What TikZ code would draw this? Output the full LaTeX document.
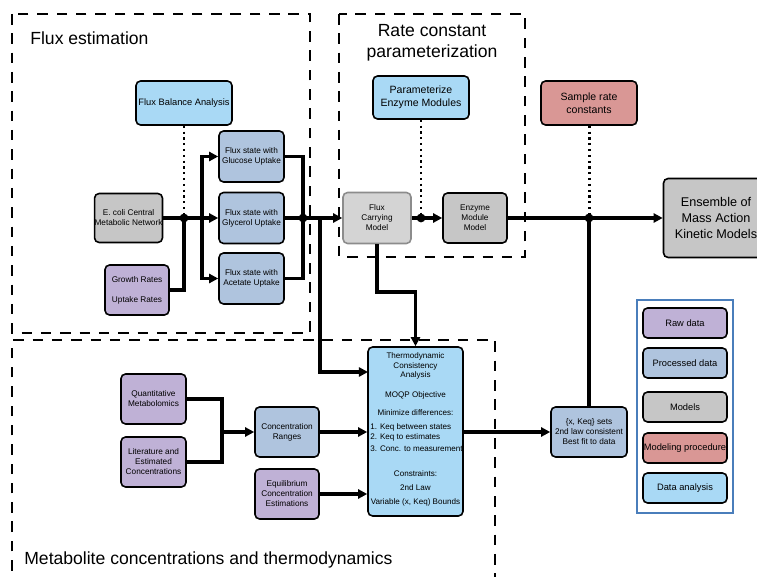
\documentclass[tikz,border=0pt]{standalone}
\usepackage{fontspec}
\setmainfont{Liberation Sans}
\usetikzlibrary{arrows.meta}

\definecolor{rawdata}{HTML}{BFB1D6}
\definecolor{procdata}{HTML}{AFC4DE}
\definecolor{models}{HTML}{C6C6C6}
\definecolor{procedure}{HTML}{D99795}
\definecolor{analysis}{HTML}{A9D9F5}
\definecolor{legendline}{HTML}{4A7EBB}

\begin{document}
\begin{tikzpicture}[x=0.02cm, y=-0.02cm,
    box/.style={draw=black, line width=0.9pt, rounded corners=2.6pt, inner sep=0pt,
        align=center, font=\fontsize{4.7}{5.7}\selectfont,
        minimum width=1.3cm, minimum height=1.0cm},
    conn/.style={line width=1.8pt},
    arr/.style={conn, -{Triangle[length=5.2pt,width=5.2pt]}},
    dots/.style={line width=1.7pt, dash pattern=on 1.3pt off 2pt},
    region/.style={line width=0.8pt, dash pattern=on 6pt off 5pt},
    title/.style={font=\fontsize{10}{12}\selectfont, inner sep=0pt},
    jdot/.style={circle, fill=black, inner sep=0pt, minimum size=5pt}]

    \useasboundingbox (0,0) rectangle (757,577);

    % Regioes tracejadas
    \draw[region] (12,14) rectangle (310,333);
    \draw[region] (339,14) rectangle (525,257);
    \draw[region] (12,590) -- (12,340) -- (495,340) -- (495,590);

    \node[title, anchor=west] (tflux) at (30,38) {Flux estimation};
    \node[title, align=center] (trate) at (432,43) {Rate constant\\parameterization};
    \node[title, anchor=west] (tmeta) at (24,560) {Metabolite concentrations and thermodynamics};

    % Estimativa de fluxos
    \node[box, fill=analysis, font=\fontsize{5.3}{6.4}\selectfont,
        minimum width=1.92cm, minimum height=0.88cm] (fba) at (184,103) {Flux Balance Analysis};
    \node[box, fill=models, minimum width=1.34cm, minimum height=0.98cm] (ecoli) at (128.5,218)
        {E. coli Central\\Metabolic Network};
    \node[box, fill=rawdata, minimum width=1.28cm] (growth) at (137,290)
        {Growth Rates\\[5.6pt]Uptake Rates};
    \foreach \nm/\src/\y in {glucose/Glucose/156.5, glycerol/Glycerol/218, acetate/Acetate/278.5}
        \node[box, fill=procdata, minimum height=1.02cm] (\nm) at (251.5,\y)
            {Flux state with\\\src\ Uptake};

    \coordinate (j1) at (184,218);
    \coordinate (sp) at (202,218);
    \coordinate (j2) at (303,218);
    \coordinate (br) at (320,218);

    \draw[dots] (fba.south) -- (j1);
    \draw[arr] (ecoli) -- (glycerol);
    \draw[conn] (growth.east) -| (j1);
    \draw[arr] (sp) |- (glucose.west);
    \draw[arr] (sp) |- (acetate.west);
    \draw[conn] (glucose.east) -| (j2);
    \draw[conn] (acetate.east) -| (j2);

    % Parametrizacao das constantes
    \node[box, fill=models!75, draw=black!45, minimum width=1.36cm, minimum height=1.02cm] (fcm)
        at (377,218) {Flux\\Carrying\\Model};
    \node[box, fill=analysis, font=\fontsize{6}{7.2}\selectfont,
        minimum width=1.92cm, minimum height=0.86cm] (param) at (421,97.5)
        {Parameterize\\Enzyme Modules};
    \node[box, fill=models, minimum width=1.28cm] (enzyme) at (475,218)
        {Enzyme\\Module\\Model};
    \node[box, fill=procedure, font=\fontsize{6}{7.2}\selectfont,
        minimum width=1.92cm, minimum height=0.88cm] (sample) at (589,103)
        {Sample rate\\constants};
    \node[box, fill=models, font=\fontsize{7.2}{9}\selectfont,
        minimum width=2.1cm, minimum height=1.58cm] (ensemble) at (716,218)
        {Ensemble of\\Mass Action\\Kinetic Models};

    \coordinate (j3) at (421,218);
    \coordinate (j4) at (589,218);

    \draw[arr] (glycerol) -- (fcm);
    \draw[dots] (param.south) -- (j3);
    \draw[arr] (fcm) -- (enzyme);
    \draw[dots] (sample.south) -- (j4);
    \draw[arr] (enzyme) -- (ensemble);

    % Concentracoes e termodinamica
    \node[box, fill=analysis, minimum width=1.9cm, minimum height=3.38cm] (thermo) at (415.5,431.5) {};
    \node[box, fill=procdata, minimum width=1.52cm] (xkeq) at (589,432)
        {\{x, Keq\} sets\\2nd law consistent\\Best fit to data};
    \node[box, fill=rawdata] (quant) at (153.5,399) {Quantitative\\Metabolomics};
    \node[box, fill=rawdata] (lit) at (153.5,462) {Literature and\\Estimated\\Concentrations};
    \node[box, fill=procdata, minimum width=1.28cm] (ranges) at (287,432) {Concentration\\Ranges};
    \node[box, fill=rawdata, minimum width=1.28cm] (equil) at (287,494)
        {Equilibrium\\Concentration\\Estimations};

    % Texto da analise
    \begin{scope}[every node/.style={font=\fontsize{4.6}{5.4}\selectfont, inner sep=0pt}]
        \node[align=center] (th1) at (415.5,366) {Thermodynamic\\Consistency\\Analysis};
        \node (th2) at (415.5,395) {MOQP Objective};
        \node (th3) at (415.5,413) {Minimize differences:};
        \node[anchor=west] (th4) at (370,427) {1. Keq between states};
        \node[anchor=west] (th5) at (370,437.5) {2. Keq to estimates};
        \node[anchor=west] (th6) at (370,449) {3. Conc. to measurement};
        \node (th7) at (415.5,474) {Constraints:};
        \node (th8) at (415.5,488) {2nd Law};
        \node (th9) at (415.5,502) {Variable (x, Keq) Bounds};
    \end{scope}

    \coordinate (k) at (377,292);
    \coordinate (m) at (222,432);
    \coordinate (tin) at (368,372);

    \draw[arr] (br) |- (tin);
    \draw[arr] (fcm.south) -- (k) -| (thermo.north);
    \draw[conn] (j4) -- (xkeq.north);
    \draw[arr] (thermo.east |- xkeq) -- (xkeq.west);
    \draw[conn] (quant.east) -| (m);
    \draw[conn] (lit.east) -| (m);
    \draw[arr] (m) -- (ranges);
    \draw[arr] (ranges) -- (ranges -| thermo.west);
    \draw[arr] (equil) -- (equil -| thermo.west);

    % Pontos de juncao
    \foreach \j in {j1,j2,j3,j4}
        \node[jdot] (dot-\j) at (\j) {};

    % Legenda
    \draw[legendline, line width=0.7pt] (637,300) rectangle (733,513);
    \foreach \nm/\col/\y/\lbl in {lraw/rawdata/323/Raw data, lproc/procdata/363/Processed data,
        lmod/models/407/Models, lproc2/procedure/448/Modeling procedure, lana/analysis/488/Data analysis}
        \node[box, fill=\col, font=\fontsize{5.3}{6.4}\selectfont,
            minimum width=1.68cm, minimum height=0.6cm] (\nm) at (685,\y) {\lbl};

\end{tikzpicture}
\end{document}
